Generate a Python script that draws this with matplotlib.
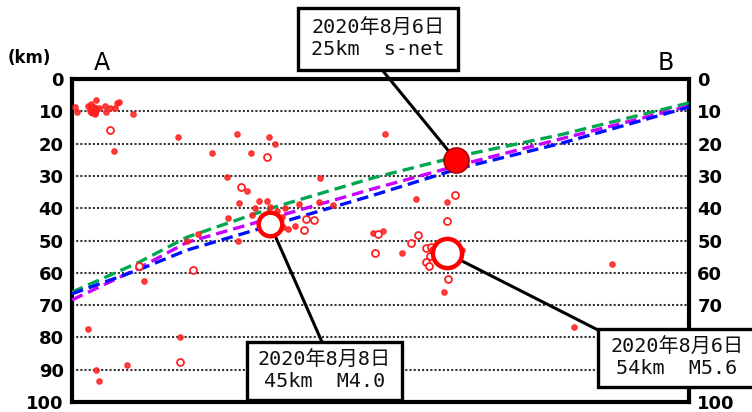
import matplotlib
matplotlib.use("Agg")
import matplotlib.pyplot as plt
from matplotlib.patches import Rectangle

# Cross-section A-B: horizontal position (0 = A, 100 = B) and focal depth (km)
dot_x = [0.5, 0.8, 2.6, 3.1, 3.7, 3.9, 4.4, 5.3, 5.5, 6.2, 7.0, 7.3, 7.6, 9.9,
         6.8, 17.2, 26.7, 31.9, 32.9, 22.7, 29.0, 25.1, 28.4, 27.1, 30.3, 31.6,
         40.2, 29.7, 32.1, 33.2, 34.5, 36.8, 40.0, 42.3, 25.3, 29.2, 30.8, 34.0,
         34.2, 36.1, 35.0, 20.4, 18.6, 26.9, 48.8, 50.4, 55.8, 60.8, 53.5, 63.2,
         61.4, 60.3, 87.5, 81.4, 11.7, 2.6, 3.9, 4.4, 8.9, 17.5, 50.7]
dot_d = [8.7, 10.2, 8.4, 7.7, 10.8, 6.5, 9.0, 8.4, 10.2, 9.0, 9.0, 7.4, 7.1, 10.8,
         22.3, 18.0, 17.0, 18.0, 20.0, 23.0, 23.0, 30.3, 34.7, 38.4, 37.8, 37.8,
         30.7, 40.0, 39.6, 41.0, 40.0, 38.7, 38.0, 39.0, 43.0, 42.0, 42.7, 42.7,
         45.8, 45.5, 46.4, 48.0, 50.0, 50.0, 47.7, 47.0, 37.0, 38.0, 54.0, 53.0,
         58.0, 66.0, 57.3, 76.8, 62.5, 77.4, 90.0, 93.5, 88.5, 79.9, 17.0]

# larger event inside the shallow cluster near A
big_dot_x = [3.4]
big_dot_d = [9.6]

ring_x = [6.2, 31.6, 27.4, 37.9, 39.2, 37.6, 49.6, 49.1, 62.1, 60.8, 56.1, 54.9,
          57.4, 58.2, 58.0, 57.4, 57.9, 58.5, 60.9, 10.9, 19.6, 17.5]
ring_d = [15.8, 24.0, 33.4, 43.3, 43.7, 46.7, 48.0, 54.0, 36.0, 44.0, 48.3, 50.8,
          52.3, 52.0, 54.8, 56.7, 58.0, 53.0, 62.0, 57.9, 59.0, 87.6]

# plate-boundary models
green_x = [0, 10.9, 18.6, 32.6, 48.8, 62.9, 79.1, 100]
green_d = [66.0, 56.7, 49.0, 39.8, 30.6, 23.8, 17.3, 7.4]
magenta_x = [0, 10.9, 18.6, 48.8, 62.9, 79.1, 100]
magenta_d = [68.4, 58.5, 50.6, 34.0, 26.6, 18.6, 8.4]
blue_x = [0, 10.9, 18.6, 48.8, 62.9, 79.1, 100]
blue_d = [66.5, 59.0, 53.0, 36.0, 27.6, 20.0, 8.7]

# highlighted events
ev_m40 = (32.1, 45.0)
ev_m56 = (60.8, 54.0)
ev_snet = (62.2, 25.0)

label_snet = "2020年8月6日\n25km  s-net"
label_m40 = "2020年8月8日\n45km  M4.0"
label_m56 = "2020年8月6日\n54km  M5.6"

depth_ticks = list(range(0, 101, 10))

W, H = 752, 412
fig = plt.figure(figsize=(W / 100, H / 100), dpi=100)
ax = fig.add_axes([72 / W, 1 - 402 / H, (689 - 72) / W, (402 - 79) / H])
ax.set_xlim(0, 100)
ax.set_ylim(100, 0)

for d in depth_ticks[1:-1]:
    ax.axhline(d, color="#333333", lw=1.5, linestyle=(0, (1.0, 1.0)), zorder=1)

ax.plot(green_x, green_d, color="#00a650", lw=2.4, linestyle=(0, (3.5, 1.8)), zorder=3)
ax.plot(magenta_x, magenta_d, color="#c800ff", lw=2.4, linestyle=(0, (3.5, 1.8)), zorder=3)
ax.plot(blue_x, blue_d, color="#0010ff", lw=2.4, linestyle=(0, (3.5, 1.8)), zorder=3)

red = "#ff2020"
ax.plot(dot_x, dot_d, "o", ms=3.8, color=red, mec=red, zorder=4, alpha=0.85)
ax.plot(big_dot_x, big_dot_d, "o", ms=8, color=red, mec=red, zorder=4)
ax.plot(ring_x, ring_d, "o", ms=5, mfc="white", mec=red, mew=1.3, zorder=4)

# connector lines from the labels to the events
conn = dict(arrowstyle="-", lw=2.2, color="black", shrinkA=0, shrinkB=0)
for xy, pix in [(ev_snet, (383, H - 71)), (ev_m40, (322, H - 342)), (ev_m56, (598, H - 330))]:
    ax.annotate("", xy=xy, xytext=pix, textcoords="figure pixels",
                arrowprops=conn, annotation_clip=False, zorder=5)

ax.plot(*ev_m40, "o", ms=17, mfc="white", mec="#ff0000", mew=3.2, zorder=6)
ax.plot(*ev_m56, "o", ms=21, mfc="white", mec="#ff0000", mew=3.2, zorder=6)
ax.plot(*ev_snet, "o", ms=18, mfc="#ff0000", mec="#b00000", mew=1.2, zorder=6)

for s in ax.spines.values():
    s.set_linewidth(3)
    s.set_color("black")
ax.set_xticks([])
ax.set_yticks(depth_ticks)
ax.tick_params(axis="y", length=0, pad=6, labelsize=13, left=True, right=True,
               labelleft=True, labelright=True)
for t, d in zip(ax.yaxis.get_major_ticks(), depth_ticks):
    t.label1.set_fontweight("bold")
    t.label2.set_fontweight("bold")
    # right-hand labels behind the M5.6 box are covered
    if d in (80, 90):
        t.label2.set_visible(False)

fig.text(8 / W, 1 - 58 / H, "(km)", fontsize=12, fontweight="bold", va="center", ha="left")
fig.text(102 / W, 1 - 63 / H, "A", fontsize=17, va="center", ha="center")
fig.text(666 / W, 1 - 63 / H, "B", fontsize=17, va="center", ha="center")

# label boxes drawn on top of the axes
box_font = ["DejaVu Sans Mono", "Noto Sans CJK JP"]
for (x0, y0, x1, y1), txt in [((298, 8, 458, 70), label_snet),
                               ((247, 342, 402, 400), label_m40),
                               ((598, 329, 760, 387), label_m56)]:
    r = Rectangle((x0 / W, 1 - y1 / H), (x1 - x0) / W, (y1 - y0) / H,
                  transform=fig.transFigure, facecolor="white", edgecolor="black",
                  lw=2.4, zorder=10)
    fig.add_artist(r)
    cx = (x0 + min(x1, 752) + (4 if x1 > 752 else 0)) / 2
    fig.text(cx / W, 1 - (y0 + y1) / 2 / H, txt, family=box_font, fontsize=14.5,
             ha="center", va="center", linespacing=1.15, zorder=11, color="#111111")

fig.savefig("out.png", dpi=100)
